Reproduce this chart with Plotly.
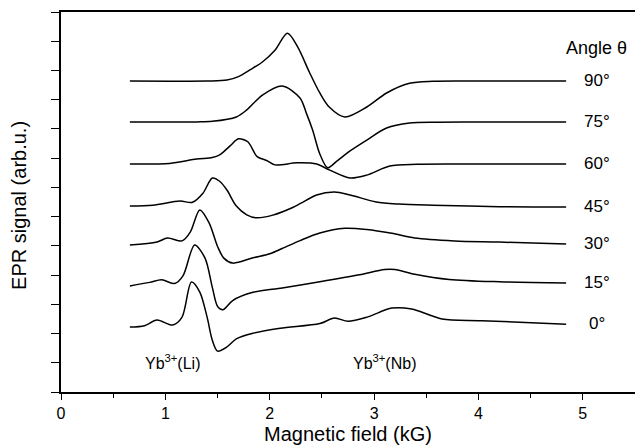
import plotly.graph_objects as go

# Angle of each trace (top to bottom) and its vertical offset (arb. u.)
angles = [90, 75, 60, 45, 30, 15, 0]
offsets = [10.64, 9.24, 7.80, 6.36, 5.03, 3.63, 2.22]

# Magnetic field (kG) and EPR signal (arb. u., relative to offset) for each angle
field_90 = [0.66, 1.40, 1.59, 1.70, 1.81, 1.93, 2.05, 2.17, 2.27, 2.38, 2.48, 2.57, 2.72, 2.93, 3.12, 3.34, 3.56, 3.90, 4.84]
signal_90 = [0, 0, 0.03, 0.15, 0.38, 0.65, 1.05, 1.63, 1.15, 0.30, -0.41, -0.89, -1.23, -0.89, -0.41, -0.08, -0.01, 0, 0]

field_75 = [0.66, 1.30, 1.45, 1.68, 1.78, 1.93, 2.12, 2.29, 2.35, 2.41, 2.48, 2.555, 2.64, 2.77, 2.93, 3.12, 3.34, 3.60, 3.95, 4.84]
signal_75 = [0, 0, 0.02, 0.17, 0.41, 0.92, 1.23, 0.82, 0.31, -0.27, -1.10, -1.57, -1.35, -0.99, -0.62, -0.21, -0.04, -0.01, 0, 0]

field_60 = [0.66, 1.04, 1.30, 1.45, 1.52, 1.62, 1.70, 1.79, 1.88, 1.97, 2.05, 2.26, 2.45, 2.57, 2.77, 2.93, 3.15, 3.41, 3.80, 4.84]
signal_60 = [0, 0.02, 0.17, 0.22, 0.31, 0.62, 0.86, 0.76, 0.25, 0.12, -0.03, 0.04, 0.0, -0.20, -0.48, -0.38, -0.07, -0.01, 0, 0]

field_45 = [0.66, 0.88, 1.14, 1.26, 1.36, 1.45, 1.52, 1.59, 1.68, 1.78, 1.87, 2.03, 2.22, 2.30, 2.45, 2.62, 2.77, 3.02, 3.24, 3.56, 4.20, 4.84]
signal_45 = [0, 0.03, 0.17, 0.13, 0.44, 0.96, 0.85, 0.55, 0.0, -0.30, -0.40, -0.31, -0.05, 0.10, 0.38, 0.48, 0.38, 0.14, 0.07, 0.03, -0.02, -0.03]

field_30 = [0.66, 0.92, 1.02, 1.16, 1.24, 1.33, 1.42, 1.50, 1.56, 1.645, 1.84, 2.00, 2.12, 2.29, 2.48, 2.72, 2.93, 3.17, 3.39, 3.77, 4.20, 4.84]
signal_30 = [0, 0.10, 0.24, 0.14, 0.45, 1.20, 0.75, -0.05, -0.45, -0.62, -0.44, -0.30, -0.12, 0.15, 0.41, 0.57, 0.53, 0.40, 0.24, 0.14, 0.10, 0.03]

field_15 = [0.66, 0.85, 0.965, 1.09, 1.17, 1.28, 1.38, 1.45, 1.50, 1.55, 1.645, 1.84, 2.12, 2.48, 2.86, 3.10, 3.20, 3.39, 3.72, 4.20, 4.84]
signal_15 = [0, 0.12, 0.21, 0.08, 0.35, 1.40, 0.95, -0.05, -0.70, -0.82, -0.50, -0.22, -0.07, 0.14, 0.38, 0.56, 0.56, 0.40, 0.22, 0.14, 0.10]

field_0 = [0.66, 0.80, 0.92, 1.07, 1.16, 1.25, 1.33, 1.40, 1.45, 1.50, 1.59, 1.68, 1.84, 2.10, 2.48, 2.62, 2.75, 2.94, 3.17, 3.36, 3.65, 4.03, 4.84]
signal_0 = [0, 0.05, 0.24, 0.07, 0.34, 1.54, 1.20, 0.34, -0.45, -0.82, -0.68, -0.40, -0.21, -0.04, 0.12, 0.31, 0.20, 0.35, 0.65, 0.62, 0.28, 0.22, 0.10]

fields = [field_90, field_75, field_60, field_45, field_30, field_15, field_0]
signals = [signal_90, signal_75, signal_60, signal_45, signal_30, signal_15, signal_0]

x_ticks = [0, 1, 2, 3, 4, 5]
y_ticks = list(range(0, 14))

FONT = "Liberation Sans, Arial, sans-serif"

fig = go.Figure()
for ang, off, fx, sy in zip(angles, offsets, fields, signals):
    fig.add_trace(go.Scatter(
        x=fx, y=[off + v for v in sy], mode="lines",
        line=dict(color="black", width=1.5, shape="spline", smoothing=0.85),
        showlegend=False, hoverinfo="skip"))
    fig.add_annotation(x=5.14, y=off + sy[-1] + 0.03, text=f"{ang}°",
                       showarrow=False, xanchor="center", yanchor="middle",
                       font=dict(size=17, color="black", family=FONT))

fig.add_annotation(x=5.13, y=11.77, text="Angle θ", showarrow=False,
                   xanchor="center", yanchor="middle",
                   font=dict(size=18, color="black", family=FONT))
fig.add_annotation(x=1.065, y=1.03, text="Yb<sup>3+</sup>(Li)", showarrow=False,
                   xanchor="center", yanchor="middle",
                   font=dict(size=16, color="black", family=FONT))
fig.add_annotation(x=3.10, y=1.03, text="Yb<sup>3+</sup>(Nb)", showarrow=False,
                   xanchor="center", yanchor="middle",
                   font=dict(size=16, color="black", family=FONT))
fig.add_annotation(x=-0.073, xref="paper", y=0.49, yref="paper",
                   text="EPR signal (arb.u.)", textangle=-90, showarrow=False,
                   xanchor="center", yanchor="middle",
                   font=dict(size=20, color="black", family=FONT))

fig.update_layout(
    width=635, height=447,
    margin=dict(l=61, r=0, t=12, b=55),
    paper_bgcolor="white", plot_bgcolor="white",
    font=dict(family=FONT, color="black"),
    xaxis=dict(range=[0, 5.5], tickvals=x_ticks, ticks="outside", ticklen=6,
               tickwidth=1.3, tickcolor="black",
               showline=True, linecolor="black", linewidth=1.5, mirror=True,
               showgrid=False, zeroline=False,
               tickfont=dict(size=16, color="black", family=FONT),
               minor=dict(dtick=0.5, tick0=0, ticks="outside", ticklen=4,
                          tickwidth=1.3, tickcolor="black", showgrid=False),
               title=dict(text="Magnetic field (kG)", standoff=6,
                          font=dict(size=20, color="black", family=FONT))),
    yaxis=dict(range=[0, 13], tickvals=y_ticks, ticks="outside", ticklen=8,
               tickwidth=1.3, tickcolor="black", showticklabels=False,
               showline=True, linecolor="black", linewidth=1.5,
               showgrid=False, zeroline=False),
)

fig.write_html("out.html")
